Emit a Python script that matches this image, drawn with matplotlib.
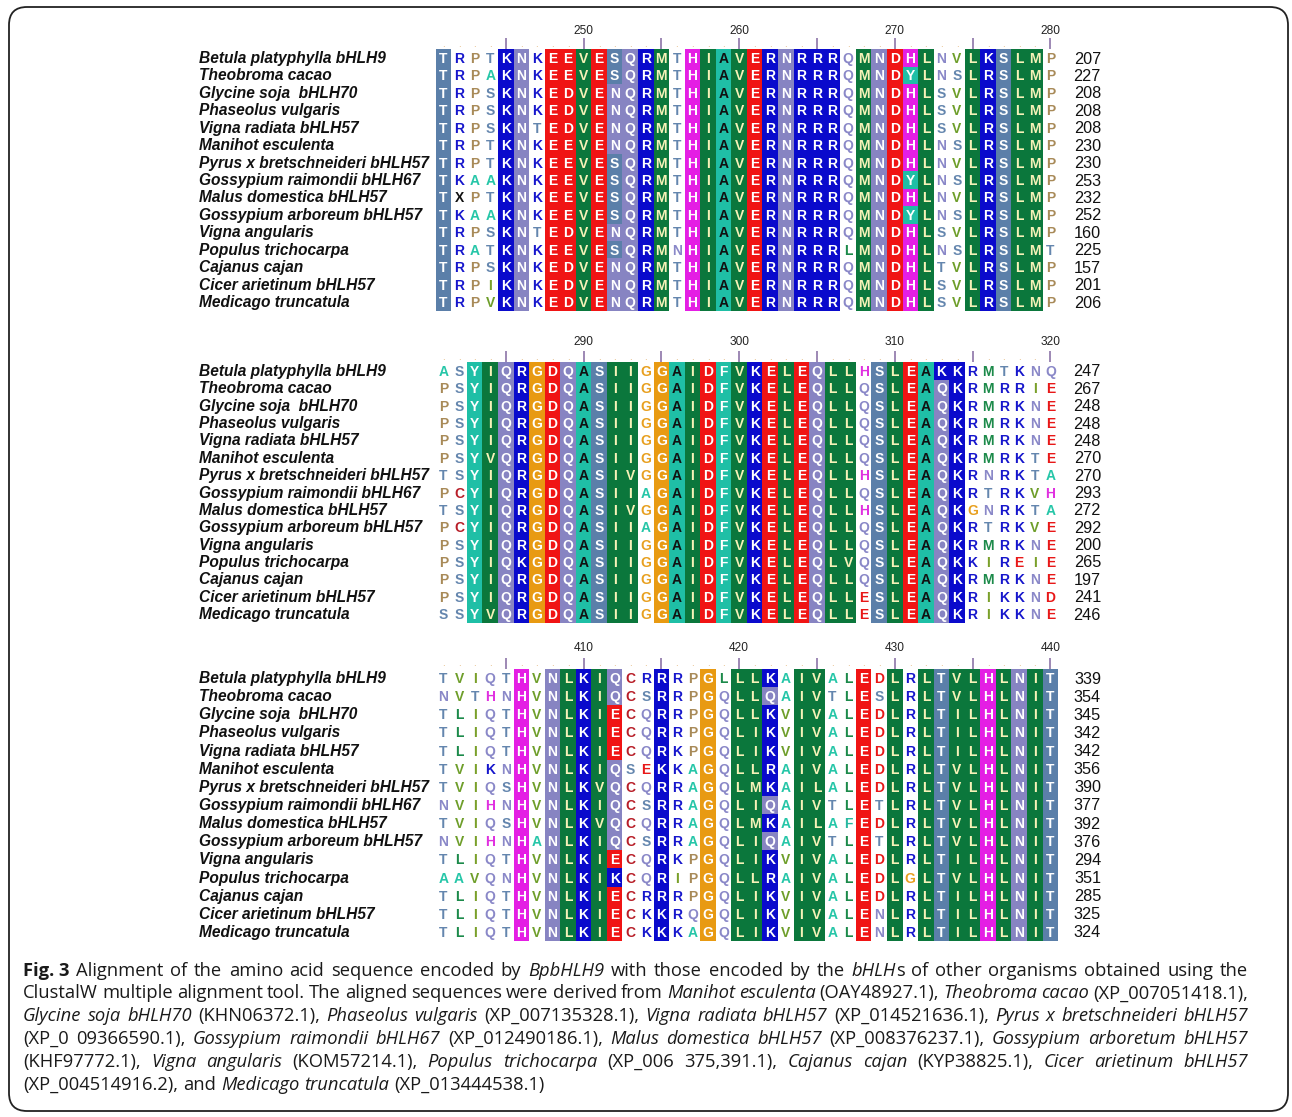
import matplotlib
matplotlib.use('Agg')
import matplotlib.pyplot as plt
from matplotlib.patches import Rectangle, FancyBboxPatch

# ---------------- data ----------------
names = ["Betula platyphylla bHLH9", "Theobroma cacao", "Glycine soja  bHLH70",
         "Phaseolus vulgaris", "Vigna radiata bHLH57", "Manihot esculenta",
         "Pyrus x bretschneideri bHLH57", "Gossypium raimondii bHLH67",
         "Malus domestica bHLH57", "Gossypium arboreum bHLH57", "Vigna angularis",
         "Populus trichocarpa", "Cajanus cajan", "Cicer arietinum bHLH57",
         "Medicago truncatula"]

block_start = [241, 281, 401]

seqs_block1 = [
    "TRPTKNKEEVESQRMTHIAVERNRRRQMNDHLNVLKSLMP",
    "TRPAKNKEEVESQRMTHIAVERNRRRQMNDYLNSLRSLMP",
    "TRPSKNKEDVENQRMTHIAVERNRRRQMNDHLSVLRSLMP",
    "TRPSKNKEDVENQRMTHIAVERNRRRQMNDHLSVLRSLMP",
    "TRPSKNTEDVENQRMTHIAVERNRRRQMNDHLSVLRSLMP",
    "TRPTKNKEEVENQRMTHIAVERNRRRQMNDHLNSLRSLMP",
    "TRPTKNKEEVESQRMTHIAVERNRRRQMNDHLNVLRSLMP",
    "TKAAKNKEEVESQRMTHIAVERNRRRQMNDYLNSLRSLMP",
    "TXPTKNKEEVESQRMTHIAVERNRRRQMNDHLNVLRSLMP",
    "TKAAKNKEEVESQRMTHIAVERNRRRQMNDYLNSLRSLMP",
    "TRPSKNTEDVENQRMTHIAVERNRRRQMNDHLSVLRSLMP",
    "TRATKNKEEVESQRMNHIAVERNRRRLMNDHLNSLRSLMT",
    "TRPSKNKEDVENQRMTHIAVERNRRRQMNDHLTVLRSLMP",
    "TRPIKNKEDVENQRMTHIAVERNRRRQMNDHLSVLRSLMP",
    "TRPVKNKEDVENQRMTHIAVERNRRRQMNDHLSVLRSLMP",
]
seqs_block2 = [
    "ASYIQRGDQASIIGGAIDFVKELEQLLHSLEAKKRMTKNQ",
    "PSYIQRGDQASIIGGAIDFVKELEQLLQSLEAQKRMRRIE",
    "PSYIQRGDQASIIGGAIDFVKELEQLLQSLEAQKRMRKNE",
    "PSYIQRGDQASIIGGAIDFVKELEQLLQSLEAQKRMRKNE",
    "PSYIQRGDQASIIGGAIDFVKELEQLLQSLEAQKRMRKNE",
    "PSYVQRGDQASIIGGAIDFVKELEQLLQSLEAQKRMRKTE",
    "TSYIQRGDQASIVGGAIDFVKELEQLLHSLEAQKRNRKTA",
    "PCYIQRGDQASIIAGAIDFVKELEQLLQSLEAQKRTRKVH",
    "TSYIQRGDQASIVGGAIDFVKELEQLLHSLEAQKGNRKTA",
    "PCYIQRGDQASIIAGAIDFVKELEQLLQSLEAQKRTRKVE",
    "PSYIQRGDQASIIGGAIDFVKELEQLLQSLEAQKRMRKNE",
    "PSYIQKGDQASIIGGAIDFVKELEQLVQSLEAQKKIREIE",
    "PSYIQRGDQASIIGGAIDFVKELEQLLQSLEAQKRMRKNE",
    "PSYIQRGDQASIIGGAIDFVKELEQLLESLEAQKRIKKND",
    "SSYVQRGDQASIIGGAIDFVKELEQLLESLEAQKRIKKNE",
]
seqs_block3 = [
    "TVIQTHVNLKIQCRRRPGLLLKAIVALEDLRLTVLHLNIT",
    "NVTHNHVNLKIQCSRRPGQLLQAIVTLESLRLTVLHLNIT",
    "TLIQTHVNLKIECQRRPGQLLKVIVALEDLRLTILHLNIT",
    "TLIQTHVNLKIECQRRPGQLIKVIVALEDLRLTILHLNIT",
    "TLIQTHVNLKIECQRKPGQLIKVIVALEDLRLTILHLNIT",
    "TVIKNHVNLKIQSEKKAGQLLRAIVALEDLRLTVLHLNIT",
    "TVIQSHVNLKVQCQRRAGQLMKAILALEDLRLTVLHLNIT",
    "NVIHNHVNLKIQCSRRAGQLIQAIVTLETLRLTVLHLNIT",
    "TVIQSHVNLKVQCQRRAGQLMKAILAFEDLRLTVLHLNIT",
    "NVIHNHANLKIQCSRRAGQLIQAIVTLETLRLTVLHLNIT",
    "TLIQTHVNLKIECQRKPGQLIKVIVALEDLRLTILHLNIT",
    "AAVQNHVNLKIKCQRIPGQLLRAIVALEDLGLTVLHLNIT",
    "TLIQTHVNLKIECRRRPGQLIKVIVALEDLRLTILHLNIT",
    "TLIQTHVNLKIECKKRQGQLIKVIVALENLRLTILHLNIT",
    "TLIQTHVNLKIECKKKAGQLIKVIVALENLRLTILHLNIT",
]
end_block1 = [207, 227, 208, 208, 208, 230, 230, 253, 232, 252, 160, 225, 157, 201, 206]
end_block2 = [247, 267, 248, 248, 248, 270, 270, 293, 272, 292, 200, 265, 197, 241, 246]
end_block3 = [339, 354, 345, 342, 342, 356, 390, 377, 392, 376, 294, 351, 285, 325, 324]

# conserved (boxed) columns per block
boxed_block1 = "1000110111" "1111101111" "1111110111" "1100111110"
boxed_block2 = "0011111111" "1110111111" "1111111011" "1111000000"
boxed_block3 = "0000010111" "1100100101" "1101100101" "0111111111"

caption_lines = [
    "#Fig.\u00a03# Alignment of the amino acid sequence encoded by *BpbHLH9* with those encoded by the *bHLH*s of other organisms obtained using the",
    "ClustalW multiple alignment tool. The aligned sequences were derived from *Manihot esculenta* (OAY48927.1), *Theobroma cacao* (XP_007051418.1),",
    "*Glycine soja bHLH70* (KHN06372.1), *Phaseolus vulgaris* (XP_007135328.1), *Vigna radiata bHLH57* (XP_014521636.1), *Pyrus x bretschneideri bHLH57*",
    "(XP_0 09366590.1), *Gossypium raimondii bHLH67* (XP_012490186.1), *Malus domestica bHLH57* (XP_008376237.1), *Gossypium arboretum bHLH57*",
    "(KHF97772.1), *Vigna angularis* (KOM57214.1), *Populus trichocarpa* (XP_006 375,391.1), *Cajanus cajan* (KYP38825.1), *Cicer arietinum bHLH57*",
    "(XP_004514916.2), and *Medicago truncatula* (XP_013444538.1)",
]

blocks = [(seqs_block1, end_block1, boxed_block1),
          (seqs_block2, end_block2, boxed_block2),
          (seqs_block3, end_block3, boxed_block3)]

# ---------------- styles ----------------
STEEL, BLUE, LAV, RED = '#5b7fa9', '#0a0acc', '#8784c2', '#f01414'
GREEN, TEAL, MAG, ORANGE = '#0b773c', '#1fbfa6', '#e41ee4', '#e89a12'
box_col = {}
for a in 'ST': box_col[a] = STEEL
for a in 'KR': box_col[a] = BLUE
for a in 'NQ': box_col[a] = LAV
for a in 'ED': box_col[a] = RED
for a in 'VILM': box_col[a] = GREEN
for a in 'AYF': box_col[a] = TEAL
box_col['H'] = MAG
box_col['G'] = ORANGE

txt_col = {'R': '#1616cc', 'K': '#1616cc', 'E': '#e81818', 'D': '#e81818',
           'N': '#8a88c8', 'Q': '#8a88c8', 'S': '#6486ae', 'T': '#6486ae',
           'A': '#26c6a8', 'G': '#e8a020', 'H': '#e030e0', 'P': '#a88a58',
           'C': '#b81e28', 'L': '#1c8a4a', 'M': '#1c8a4a', 'V': '#6e9e2a',
           'I': '#7aa02a', 'F': '#28b8a0', 'Y': '#28b8a0', 'X': '#111111'}

W, H = 1292, 1117
fig = plt.figure(figsize=(W / 100, H / 100), dpi=100)
ax = fig.add_axes([0, 0, 1, 1])
ax.set_xlim(0, W)
ax.set_ylim(H, 0)
ax.axis('off')

# frame
ax.add_patch(FancyBboxPatch((9, 7), 1279, 1104, boxstyle="round,pad=0,rounding_size=18",
                            fc='none', ec='#222222', lw=1.3))

x_first, dx = 443.5, 15.56
row_top = [58, 371, 678]
row_step = [17.43, 17.36, 18.14]
label_y = [30, 341, 647]

for b, (seqs, ends, boxed) in enumerate(blocks):
    y0, dy = row_top[b], row_step[b]
    nrow = len(seqs)
    ncol = len(seqs[0])
    top = y0 - dy / 2
    # ruler
    for c in range(ncol):
        pos = block_start[b] + c
        xc = x_first + c * dx
        if pos % 5 == 0:
            ax.plot([xc, xc], [top - 11, top], color='#8c74a8', lw=1.2, solid_capstyle='butt')
            if pos % 10 == 0:
                ax.text(xc, label_y[b] + 4, str(pos), ha='center', va='baseline',
                        fontsize=8.6, family='Liberation Sans', color='#222222')
        else:
            ax.text(xc, top - 2.5, '.', ha='center', va='baseline', fontsize=7,
                    color='#e0b070', family='Liberation Sans')
    # boxes (merge vertical runs of same colour)
    for c in range(ncol):
        if boxed[c] != '1':
            continue
        xc = x_first + c * dx
        r = 0
        while r < nrow:
            col = box_col.get(seqs[r][c])
            r2 = r
            while r2 + 1 < nrow and box_col.get(seqs[r2 + 1][c]) == col:
                r2 += 1
            if col is not None:
                ax.add_patch(Rectangle((xc - dx / 2, y0 + (r - 0.5) * dy), dx, (r2 - r + 1) * dy,
                                       fc=col, ec='none', lw=0))
            r = r2 + 1
    # letters
    for r, s in enumerate(seqs):
        yr = y0 + r * dy
        for c, a in enumerate(s):
            xc = x_first + c * dx
            if boxed[c] == '1' and a in box_col:
                if a == 'A':
                    tc = '#111111'
                elif box_col[a] == GREEN:
                    tc = '#f6f2b8'
                else:
                    tc = 'white'
            else:
                tc = txt_col.get(a, '#111111')
            ax.text(xc, yr + 5, a, ha='center', va='baseline', fontsize=10,
                    fontweight='bold', family='Liberation Sans', color=tc)
        # name and end number
        ax.text(199, yr + 5, names[r], ha='left', va='baseline', fontsize=11.2,
                fontweight='bold', fontstyle='italic', family='Liberation Sans', color='#111111')
        ax.text(1101, yr + 5.5, str(ends[r]), ha='right', va='baseline', fontsize=11.7,
                family='Liberation Sans', color='#111111')

# ---------------- caption (justified) ----------------
fig.canvas.draw()
renderer = fig.canvas.get_renderer()
cap_x0, cap_x1 = 23, 1248
cap_y0, cap_dy = 975.5, 22.8
cap_fs = 13.2


def parse(line):
    words, cur, buf = [], [], ''
    ital = bold = False
    def flush():
        nonlocal buf
        if buf:
            cur.append((buf, ital, bold))
            buf = ''
    for ch in line:
        if ch == '*':
            flush(); ital = not ital
        elif ch == '#':
            flush(); bold = not bold
        elif ch == ' ':
            flush()
            if cur:
                words.append(cur)
            cur = []
        else:
            buf += ch
    flush()
    if cur:
        words.append(cur)
    return words


for li, line in enumerate(caption_lines):
    yb = cap_y0 + li * cap_dy
    words = parse(line)
    objs, widths = [], []
    for w in words:
        segs, tot = [], 0
        for (t, it, bd) in w:
            tx = ax.text(0, yb, t, ha='left', va='baseline', fontsize=cap_fs,
                         family='Open Sans', fontstyle='italic' if it else 'normal',
                         fontweight='bold' if bd else 'normal', color='#1a1a1a')
            wpx = tx.get_window_extent(renderer).width
            segs.append((tx, wpx))
            tot += wpx
        objs.append(segs)
        widths.append(tot)
    last = li == len(caption_lines) - 1
    natural = cap_fs * 1.389 * 0.27
    if last or len(words) < 2:
        gap = natural
    else:
        gap = max((cap_x1 - cap_x0 - sum(widths)) / (len(words) - 1), 3.6)
    x = cap_x0
    for segs, wtot in zip(objs, widths):
        xx = x
        for tx, wpx in segs:
            tx.set_x(xx)
            xx += wpx
        x += wtot + gap

fig.savefig('out.png', dpi=100)
